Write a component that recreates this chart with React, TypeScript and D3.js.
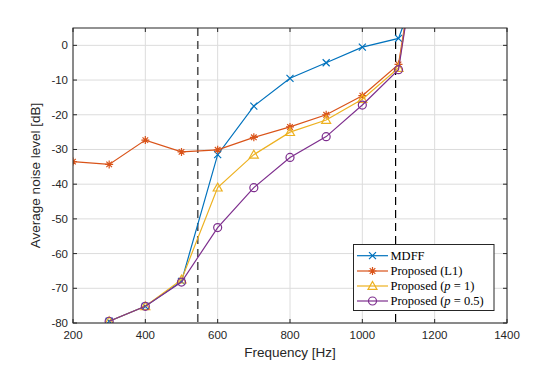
import React from "react";
import * as d3 from "d3";

const freqs = [200, 300, 400, 500, 600, 700, 800, 900, 1000, 1100, 1200];
const mdff = [null, -79.5, -75.2, -68.0, -31.5, -17.5, -9.5, -5.0, -0.5, 2.0, 30];
const propL1 = [-33.5, -34.3, -27.3, -30.7, -30.1, -26.5, -23.5, -20.0, -14.5, -5.5, 60];
const propP1 = [null, -79.5, -75.2, -67.5, -41.0, -31.5, -25.0, -21.5, -15.5, -6.5, 60];
const propP05 = [null, -79.5, -75.2, -68.2, -52.5, -41.0, -32.3, -26.3, -17.2, -7.0, 60];
const xTicks = [200, 400, 600, 800, 1000, 1200, 1400];
const yTicks = [-80, -70, -60, -50, -40, -30, -20, -10, 0];
const vLines = [545, 1092];

const W = 560, H = 368;
const L = 73, R = 507, T = 28, B = 323;

const x = d3.scaleLinear().domain([200, 1400]).range([L, R]);
const y = d3.scaleLinear().domain([-80, 5]).range([B, T]);

type S = { name: React.ReactNode; color: string; vals: (number | null)[]; marker: string };
const series: S[] = [
  { name: "MDFF", color: "#0072BD", vals: mdff, marker: "x" },
  { name: "Proposed (L1)", color: "#D95319", vals: propL1, marker: "star" },
  {
    name: (
      <>
        Proposed (<tspan fontStyle="italic">p</tspan> = 1)
      </>
    ),
    color: "#EDB120",
    vals: propP1,
    marker: "tri",
  },
  {
    name: (
      <>
        Proposed (<tspan fontStyle="italic">p</tspan> = 0.5)
      </>
    ),
    color: "#7E2F8E",
    vals: propP05,
    marker: "circ",
  },
];

function Marker({ kind, cx, cy, color }: { kind: string; cx: number; cy: number; color: string }) {
  const s = 3.5;
  const sw = 1.2;
  if (kind === "x")
    return (
      <path d={`M${cx - s},${cy - s}L${cx + s},${cy + s}M${cx - s},${cy + s}L${cx + s},${cy - s}`} stroke={color} strokeWidth={sw} fill="none" />
    );
  if (kind === "star") {
    const r = 4;
    const d = `M${cx - r},${cy}L${cx + r},${cy}M${cx},${cy - r}L${cx},${cy + r}M${cx - r * 0.7},${cy - r * 0.7}L${cx + r * 0.7},${cy + r * 0.7}M${cx - r * 0.7},${cy + r * 0.7}L${cx + r * 0.7},${cy - r * 0.7}`;
    return <path d={d} stroke={color} strokeWidth={sw} fill="none" />;
  }
  if (kind === "tri") {
    const r = 4.5;
    return (
      <path d={`M${cx},${cy - r}L${cx + r},${cy + r * 0.75}L${cx - r},${cy + r * 0.75}Z`} stroke={color} strokeWidth={sw} fill="none" />
    );
  }
  return <circle cx={cx} cy={cy} r={4} stroke={color} strokeWidth={sw} fill="none" />;
}

export default function App() {
  const line = d3
    .line<[number, number | null]>()
    .defined((d) => d[1] !== null)
    .x((d) => x(d[0]))
    .y((d) => y(d[1] as number));

  const legX = 353.5, legY = 244.5, legW = 140.5, legH = 66;
  const rowY = [255.7, 271, 286, 301];

  return (
    <svg width={W} height={H} style={{ position: "absolute", left: 0, top: 0, background: "#fff" }} fontFamily="Liberation Sans, Arial, sans-serif">
      <defs>
        <clipPath id="plotclip">
          <rect x={L} y={T} width={R - L} height={B - T} />
        </clipPath>
      </defs>
      <rect x={0} y={0} width={W} height={H} fill="#fff" />
      {xTicks.map((t) => (
        <line key={"gx" + t} x1={x(t)} x2={x(t)} y1={T} y2={B} stroke="#dcdcdc" strokeWidth={1} />
      ))}
      {yTicks.map((t) => (
        <line key={"gy" + t} x1={L} x2={R} y1={y(t)} y2={y(t)} stroke="#dcdcdc" strokeWidth={1} />
      ))}
      <line x1={x(vLines[0])} x2={x(vLines[0])} y1={T} y2={B} stroke="#555" strokeWidth={1.6} strokeDasharray="8,5" />
      <line x1={x(vLines[1])} x2={x(vLines[1])} y1={T} y2={B} stroke="#000" strokeWidth={1.2} strokeDasharray="8,5" />
      <g clipPath="url(#plotclip)">
        {series.map((s, i) => (
          <g key={i}>
            <path d={line(freqs.map((f, j) => [f, s.vals[j]]) as [number, number | null][]) || ""} stroke={s.color} strokeWidth={1.2} fill="none" />
            {freqs.map((f, j) =>
              s.vals[j] === null ? null : <Marker key={j} kind={s.marker} cx={x(f)} cy={y(s.vals[j] as number)} color={s.color} />
            )}
          </g>
        ))}
      </g>
      <rect x={L} y={T} width={R - L} height={B - T} fill="none" stroke="#262626" strokeWidth={1} />
      {xTicks.map((t) => (
        <g key={"tx" + t}>
          <line x1={x(t)} x2={x(t)} y1={B} y2={B - 4} stroke="#262626" />
          <line x1={x(t)} x2={x(t)} y1={T} y2={T + 4} stroke="#262626" />
          <text x={x(t)} y={B + 16} textAnchor="middle" fontSize={11.5} fill="#262626">
            {t}
          </text>
        </g>
      ))}
      {yTicks.map((t) => (
        <g key={"ty" + t}>
          <line x1={L} x2={L + 4} y1={y(t)} y2={y(t)} stroke="#262626" />
          <line x1={R} x2={R - 4} y1={y(t)} y2={y(t)} stroke="#262626" />
          <text x={L - 5} y={y(t) + 4} textAnchor="end" fontSize={11.5} fill="#262626">
            {t}
          </text>
        </g>
      ))}
      <text x={(L + R) / 2} y={357} textAnchor="middle" fontSize={13.5} fill="#262626">
        Frequency [Hz]
      </text>
      <text transform={`translate(40,${(T + B) / 2}) rotate(-90)`} textAnchor="middle" fontSize={13.5} fill="#262626">
        Average noise level [dB]
      </text>
      <rect x={legX} y={legY} width={legW} height={legH} fill="#fff" stroke="#262626" strokeWidth={1} />
      {series.map((s, i) => (
        <g key={"lg" + i}>
          <line x1={357} x2={388} y1={rowY[i]} y2={rowY[i]} stroke={s.color} strokeWidth={1.2} />
          <Marker kind={s.marker} cx={372.5} cy={rowY[i]} color={s.color} />
          <text x={390.5} y={rowY[i] + 4} fontSize={12.5} fontFamily="Liberation Serif, Times New Roman, serif" fill="#000">
            {s.name}
          </text>
        </g>
      ))}
    </svg>
  );
}
